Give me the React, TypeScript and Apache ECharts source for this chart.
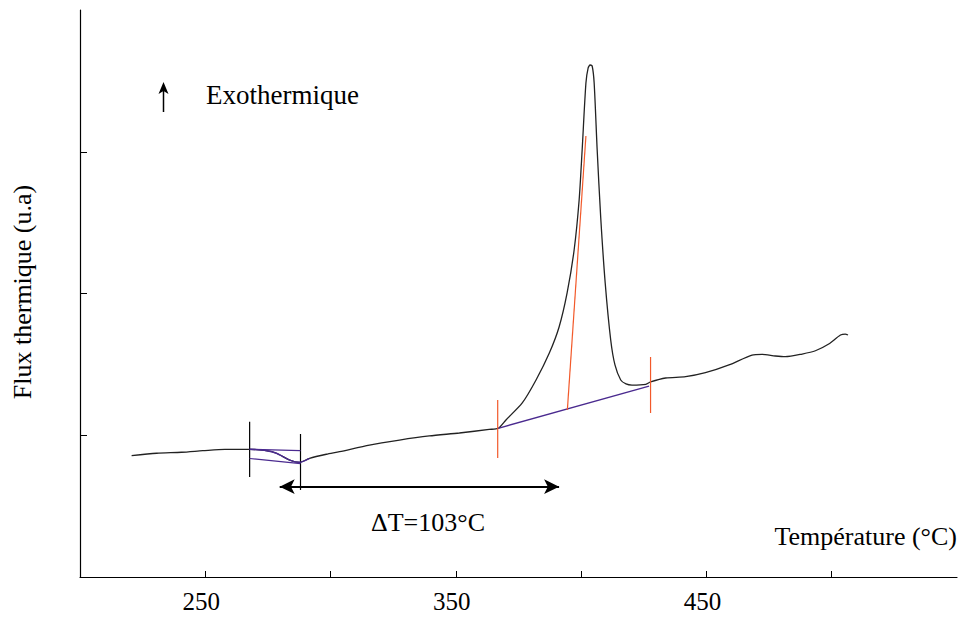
import React, { useEffect, useRef } from "react";
import * as echarts from "echarts";

// DSC curve (temperature °C, heat flux a.u.)
const temperature = [
  220.6, 230.6, 240.5, 249.0, 257.8, 267.7, 274.4, 278.4, 283.7, 287.6, 291.6, 298.3, 303.6,
  315.5, 327.5, 339.4, 351.4, 363.3, 366.9, 370.0, 376.5, 382.0, 387.3, 391.2, 394.4, 397.2,
  399.2, 400.4, 401.9, 402.8, 403.6, 404.4, 405.2, 406.4, 407.8, 409.6, 411.8, 413.5, 415.8,
  417.9, 420.3, 425.8, 427.7, 433.7, 441.7, 449.6, 459.0, 468.2, 472.2, 477.5, 481.5, 488.2,
  493.5, 498.8, 503.5, 505.4, 506.5,
];
const flux = [
  0.856, 0.873, 0.880, 0.891, 0.901, 0.901, 0.891, 0.873, 0.825, 0.809, 0.837, 0.866, 0.884,
  0.931, 0.966, 0.995, 1.016, 1.041, 1.049, 1.108, 1.228, 1.390, 1.580, 1.764, 2.004, 2.307,
  2.660, 3.012, 3.483, 3.591, 3.612, 3.605, 3.483, 3.012, 2.540, 2.074, 1.672, 1.496, 1.390,
  1.362, 1.354, 1.359, 1.376, 1.404, 1.413, 1.441, 1.496, 1.566, 1.571, 1.559, 1.554, 1.573,
  1.596, 1.644, 1.707, 1.714, 1.707,
];

// construction lines (glass-transition step)
const stepMarkersX = [267.7, 288.0];
const stepMarkersY = [[1.096, 0.705], [1.009, 0.614]];
const stepUpper = [[267.7, 0.901], [288.0, 0.891]];
const stepLower = [[267.7, 0.836], [288.0, 0.800]];
const stepCurveRange = [5, 10]; // indexes of curve drawn in purple

// construction lines (crystallisation peak)
const peakMarkersX = [366.7, 427.7];
const peakMarkersY = [[1.249, 0.840], [1.552, 1.157]];
const peakBaseline = [[366.9, 1.049], [427.1, 1.347]];
const peakTangent = [[401.9, 3.111], [394.5, 1.178]];

// ΔT arrow
const deltaArrow = [[279.7, 0.637], [391.2, 0.637]];
const deltaLabel = "ΔT=103°C";

const xTicks = [250, 300, 350, 400, 450, 500];
const xLabels = [250, 350, 450];
const yTicks = [1, 2, 3];

const FONT = "'Liberation Serif', 'Times New Roman', serif";
const PURPLE = "#4a2a8f";
const ORANGE = "#f2592a";

function seg(name: string, data: number[][], color: string, width = 1.2) {
  return {
    name,
    type: "line",
    data,
    showSymbol: false,
    symbol: "none",
    silent: true,
    lineStyle: { color, width },
    z: 3,
  };
}

export default function App() {
  const ref = useRef<HTMLDivElement>(null);
  useEffect(() => {
    if (!ref.current) return;
    const chart = echarts.init(ref.current, null, { renderer: "svg" });
    const curve = temperature.map((t, i) => [t, flux[i]]);
    const purpleCurve = curve.slice(stepCurveRange[0], stepCurveRange[1] + 1);
    chart.setOption({
      animation: false,
      backgroundColor: "#ffffff",
      grid: { left: 80, right: 5, top: 10, bottom: 40 },
      xAxis: {
        type: "value",
        min: 200,
        max: 550,
        splitLine: { show: false },
        axisLine: { show: true, lineStyle: { color: "#000", width: 1.2 } },
        axisTick: {
          show: true,
          inside: true,
          length: 6,
          customValues: xTicks,
          lineStyle: { color: "#000", width: 1 },
        },
        axisLabel: {
          show: true,
          customValues: xLabels,
          margin: 12,
          color: "#000",
          fontSize: 25,
          fontFamily: FONT,
          padding: [0, 8, 0, 0],
        },
      },
      yAxis: {
        type: "value",
        min: 0,
        max: 4,
        splitLine: { show: false },
        axisLine: { show: true, lineStyle: { color: "#000", width: 1.2 } },
        axisTick: {
          show: true,
          inside: true,
          length: 7,
          customValues: yTicks,
          lineStyle: { color: "#000", width: 1 },
        },
        axisLabel: { show: false },
      },
      series: [
        {
          name: "DSC",
          type: "line",
          data: curve,
          showSymbol: false,
          symbol: "none",
          smooth: 0.25,
          lineStyle: { color: "#222", width: 1.3 },
          z: 2,
          markLine: {
            silent: true,
            symbol: ["arrow", "arrow"],
            symbolSize: [11, 15],
            label: { show: false },
            lineStyle: { color: "#000", width: 2, type: "solid" },
            data: [[{ coord: deltaArrow[0] }, { coord: deltaArrow[1] }]],
          },
        },
        seg("step-marker-1", [[stepMarkersX[0], stepMarkersY[0][0]], [stepMarkersX[0], stepMarkersY[0][1]]], "#000", 1.2),
        seg("step-marker-2", [[stepMarkersX[1], stepMarkersY[1][0]], [stepMarkersX[1], stepMarkersY[1][1]]], "#000", 1.2),
        seg("step-upper", stepUpper, PURPLE),
        seg("step-lower", stepLower, PURPLE),
        { ...seg("step-curve", purpleCurve, PURPLE, 1.4), smooth: 0.25 },
        seg("peak-baseline", peakBaseline, PURPLE, 1.4),
        seg("peak-marker-1", [[peakMarkersX[0], peakMarkersY[0][0]], [peakMarkersX[0], peakMarkersY[0][1]]], ORANGE, 1.2),
        seg("peak-marker-2", [[peakMarkersX[1], peakMarkersY[1][0]], [peakMarkersX[1], peakMarkersY[1][1]]], ORANGE, 1.2),
        seg("peak-tangent", peakTangent, ORANGE, 1.2),
      ],
      graphic: [
        {
          type: "text",
          x: 22,
          y: 292,
          rotation: Math.PI / 2,
          style: {
            text: "Flux thermique (u.a)",
            font: `26px ${FONT}`,
            fill: "#000",
            textAlign: "center",
            textVerticalAlign: "middle",
          },
        },
        {
          type: "line",
          shape: { x1: 163.5, y1: 88, x2: 163.5, y2: 112 },
          style: { stroke: "#000", lineWidth: 1.5 },
        },
        {
          type: "polygon",
          shape: { points: [[163.5, 82], [158.5, 94], [163.5, 91], [168.5, 94]] },
          style: { fill: "#000" },
        },
        {
          type: "text",
          x: 206,
          y: 95,
          style: {
            text: "Exothermique",
            font: `27px ${FONT}`,
            fill: "#000",
            textAlign: "left",
            textVerticalAlign: "middle",
          },
        },
        {
          type: "text",
          x: 957,
          y: 536,
          style: {
            text: "Température (°C)",
            font: `26px ${FONT}`,
            fill: "#000",
            textAlign: "right",
            textVerticalAlign: "middle",
          },
        },
        {
          type: "text",
          x: 428,
          y: 522,
          style: {
            text: deltaLabel,
            font: `26px ${FONT}`,
            fill: "#000",
            textAlign: "center",
            textVerticalAlign: "middle",
          },
        },
      ],
    });
    return () => chart.dispose();
  }, []);
  return (
    <div
      ref={ref}
      style={{ position: "fixed", left: 0, top: 0, width: 962, height: 617, background: "#fff" }}
    />
  );
}
